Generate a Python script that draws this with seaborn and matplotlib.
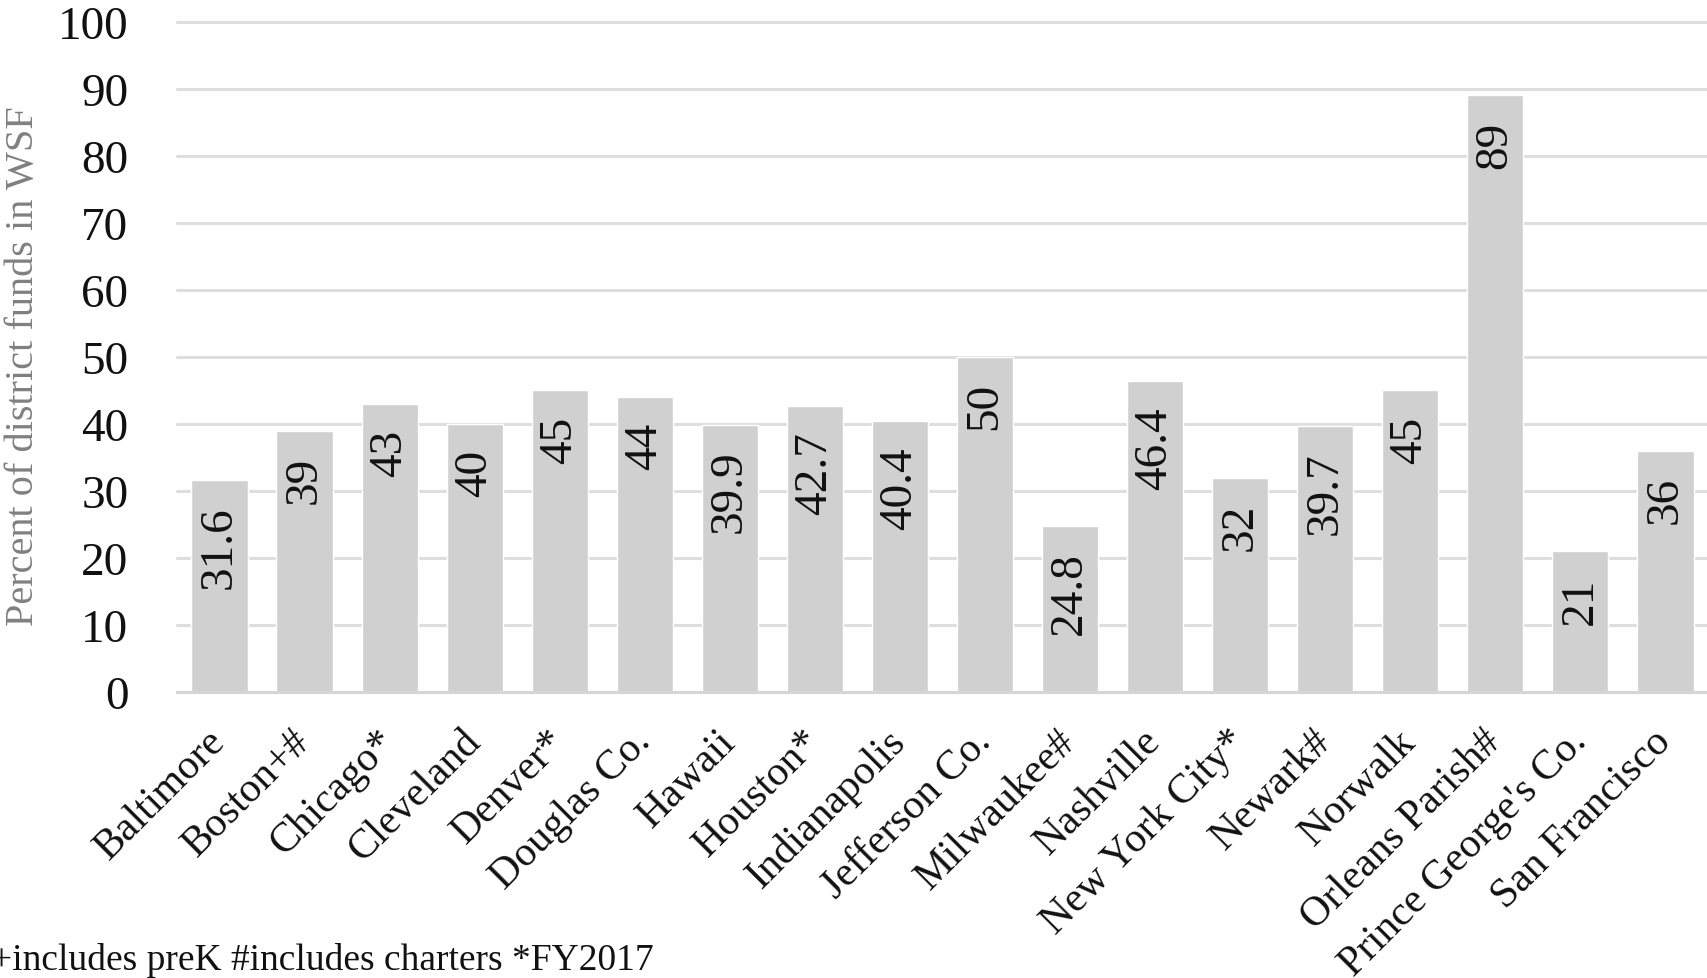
import numpy as np
import pandas as pd
import seaborn as sns
import matplotlib.pyplot as plt

# data
districts = ['Baltimore', 'Boston+#', 'Chicago*', 'Cleveland', 'Denver*', 'Douglas Co.',
             'Hawaii', 'Houston*', 'Indianapolis', 'Jefferson Co.', 'Milwaukee#',
             'Nashville', 'New York City*', 'Newark#', 'Norwalk', 'Orleans Parish#',
             "Prince George's Co.", 'San Francisco']
percent_wsf = [31.6, 39, 43, 40, 45, 44, 39.9, 42.7, 40.4, 50, 24.8, 46.4, 32, 39.7, 45, 89, 21, 36]
value_labels = ['31.6', '39', '43', '40', '45', '44', '39.9', '42.7', '40.4', '50', '24.8',
                '46.4', '32', '39.7', '45', '89', '21', '36']
y_ticks = [0, 10, 20, 30, 40, 50, 60, 70, 80, 90, 100]
footnote = '+includes preK #includes charters *FY2017'

df = pd.DataFrame({'district': districts, 'pct': percent_wsf})

sns.set_style('white')
plt.rcParams['font.family'] = ['Liberation Serif', 'DejaVu Serif']

fig = plt.figure(figsize=(17.08, 9.79), dpi=100)
ax = fig.add_axes([0.1036, 0.2921, 0.8964, 0.6847])

sns.barplot(data=df, x='district', y='pct', color='#d0d0d0', saturation=1,
            width=0.66, ax=ax, zorder=2)

ax.set_ylim(0, 100)
ax.set_xlim(-0.5, len(districts) - 0.5)
ax.set_yticks(y_ticks)
ax.yaxis.grid(True, color='#dedede', linewidth=2.2, zorder=0)
for gl in ax.get_ygridlines():
    gl.set_clip_on(False)
ax.set_axisbelow(True)

for s in ['top', 'right', 'left']:
    ax.spines[s].set_visible(False)
ax.spines['bottom'].set_color('#d6d6d6')
ax.spines['bottom'].set_linewidth(2.2)

ax.tick_params(axis='y', length=0, pad=35, labelsize=34, labelcolor='#111111')
ax.tick_params(axis='x', length=0, pad=31, labelsize=30, labelcolor='#111111')
plt.setp(ax.get_xticklabels(), rotation=45, ha='right', va='center', rotation_mode='anchor')

ax.set_xlabel('')
ax.set_ylabel('Percent of district funds in WSF', fontsize=29, color='#808080')
ax.yaxis.set_label_coords(-0.088, 0.488)

# value labels inside the top of each bar
for i, (v, lab) in enumerate(zip(percent_wsf, value_labels)):
    ax.annotate(lab, (i, v), xytext=(0, -18), textcoords='offset points',
                rotation=90, ha='center', va='top', fontsize=34, color='#111111')

fig.text(-0.005, 0.009, footnote, fontsize=27, color='#111111', va='baseline', ha='left')

fig.savefig('out.png', dpi=100)
